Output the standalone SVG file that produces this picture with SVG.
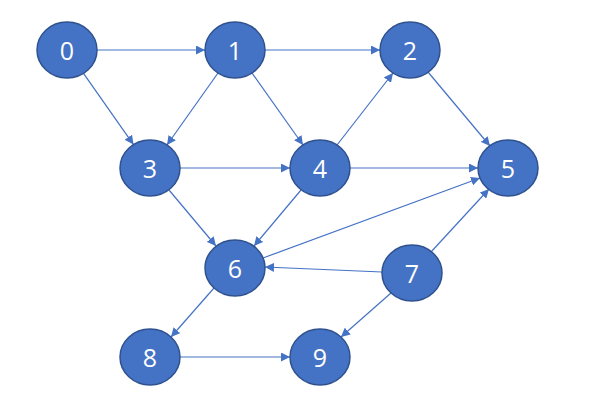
<svg xmlns="http://www.w3.org/2000/svg" width="616" height="418" viewBox="0 0 616 418">
<style>
.n ellipse{fill:#4472C4;stroke:#2F528F;stroke-width:1.5}
.n text{fill:#fff;font-family:"Open Sans","Liberation Sans",sans-serif;font-size:25px;text-anchor:middle;dominant-baseline:central}
#edges line{stroke:#4472C4;stroke-width:1.2;marker-end:url(#a)}
</style>
<defs><marker id="a" viewBox="0 0 10 10" refX="10" refY="5" markerWidth="9" markerHeight="9" markerUnits="userSpaceOnUse" orient="auto"><path d="M0,0L10,5L0,10z" fill="#4472C4"/></marker></defs>
<rect width="616" height="418" fill="#fff"/>
<g id="edges">
<line x1="97" y1="50" x2="205" y2="50"/>
<line x1="83.5" y1="73.4" x2="133.5" y2="144.6"/>
<line x1="265" y1="50" x2="380" y2="50"/>
<line x1="218" y1="73" x2="167" y2="145"/>
<line x1="252" y1="73" x2="303" y2="145"/>
<line x1="428" y1="72" x2="490" y2="146"/>
<line x1="180" y1="168" x2="290" y2="168"/>
<line x1="169" y1="190" x2="216" y2="246"/>
<line x1="337" y1="145" x2="393" y2="73"/>
<line x1="350" y1="168" x2="478" y2="168"/>
<line x1="301" y1="190" x2="254" y2="246"/>
<line x1="263" y1="258" x2="480" y2="178"/>
<line x1="382" y1="272" x2="265" y2="267"/>
<line x1="431" y1="252" x2="489" y2="189"/>
<line x1="391" y1="293" x2="341" y2="337"/>
<line x1="214" y1="288" x2="171" y2="337"/>
<line x1="180" y1="357" x2="290" y2="357"/>
</g>
<g id="n0" class="n"><ellipse cx="67" cy="50" rx="30" ry="28"/><text x="67" y="50">0</text></g>
<g id="n1" class="n"><ellipse cx="235" cy="50" rx="30" ry="28"/><text x="235" y="50">1</text></g>
<g id="n2" class="n"><ellipse cx="410" cy="50" rx="30" ry="28"/><text x="410" y="50">2</text></g>
<g id="n3" class="n"><ellipse cx="150" cy="168" rx="30" ry="28"/><text x="150" y="168">3</text></g>
<g id="n4" class="n"><ellipse cx="320" cy="168" rx="30" ry="28"/><text x="320" y="168">4</text></g>
<g id="n5" class="n"><ellipse cx="508" cy="168" rx="30" ry="28"/><text x="508" y="168">5</text></g>
<g id="n6" class="n"><ellipse cx="235" cy="268" rx="30" ry="28"/><text x="235" y="268">6</text></g>
<g id="n7" class="n"><ellipse cx="412" cy="273" rx="30" ry="28"/><text x="412" y="273">7</text></g>
<g id="n8" class="n"><ellipse cx="150" cy="357" rx="30" ry="28"/><text x="150" y="357">8</text></g>
<g id="n9" class="n"><ellipse cx="320" cy="357" rx="30" ry="28"/><text x="320" y="357">9</text></g>
</svg>
